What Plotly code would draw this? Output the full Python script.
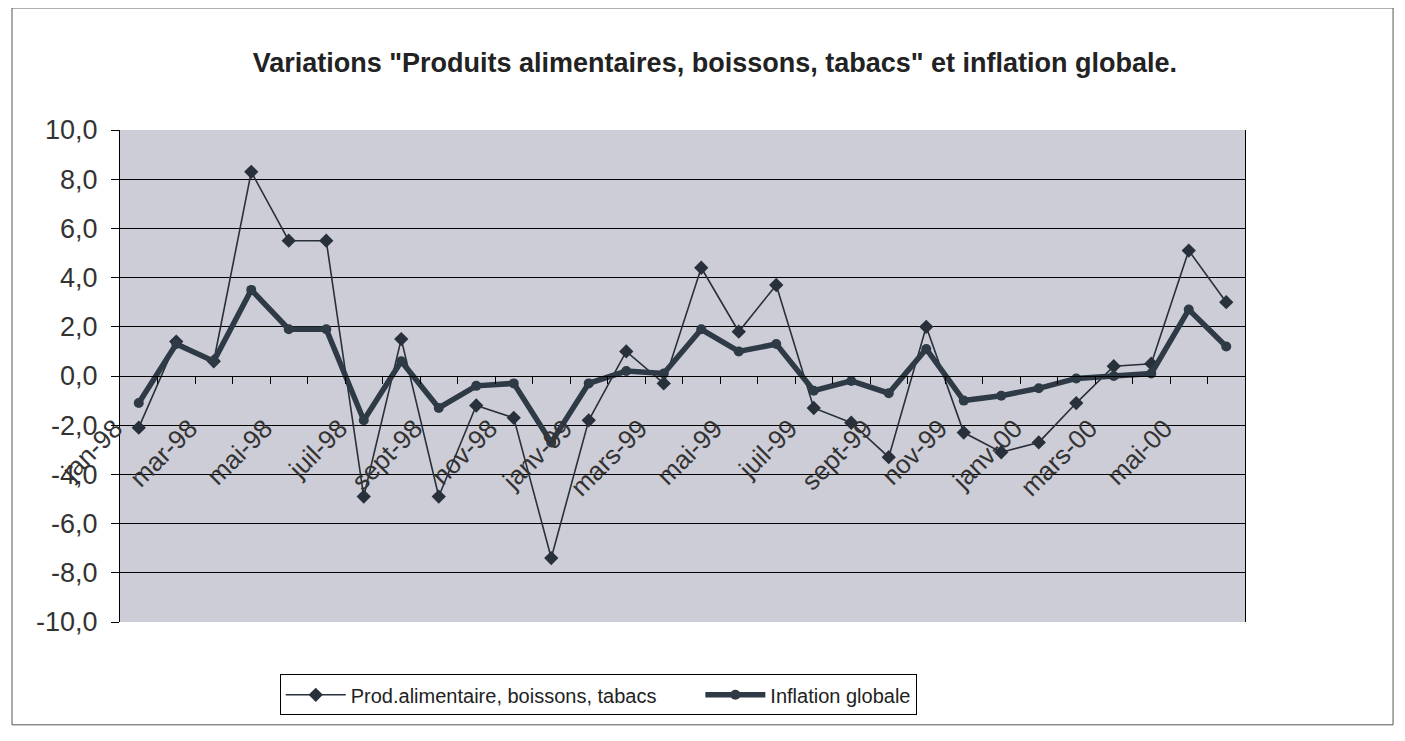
import plotly.graph_objects as go

months = ["jan-98", "févr-98", "mar-98", "avr-98", "mai-98", "juin-98", "juil-98", "août-98",
          "sept-98", "oct-98", "nov-98", "déc-98", "janv-99", "févr-99", "mars-99", "avr-99",
          "mai-99", "juin-99", "juil-99", "août-99", "sept-99", "oct-99", "nov-99", "déc-99",
          "janv-00", "févr-00", "mars-00", "avr-00", "mai-00", "juin-00"]

prod_alim = [-2.1, 1.4, 0.6, 8.3, 5.5, 5.5, -4.9, 1.5, -4.9, -1.2, -1.7, -7.4,
             -1.8, 1.0, -0.3, 4.4, 1.8, 3.7, -1.3, -1.9, -3.3, 2.0, -2.3, -3.1,
             -2.7, -1.1, 0.4, 0.5, 5.1, 3.0]

inflation = [-1.1, 1.3, 0.6, 3.5, 1.9, 1.9, -1.8, 0.6, -1.3, -0.4, -0.3, -2.7,
             -0.3, 0.2, 0.1, 1.9, 1.0, 1.3, -0.6, -0.2, -0.7, 1.1, -1.0, -0.8,
             -0.5, -0.1, 0.0, 0.1, 2.7, 1.2]

tick_months = months[::2]
y_ticks = list(range(-10, 11, 2))
y_ticktext = [f"{v:.1f}".replace(".", ",") for v in y_ticks]
boundaries = [i + 0.5 for i in range(len(months) - 1)]

FONT = "Liberation Sans, Arial, sans-serif"
LINE = "#27303b"

fig = go.Figure()
fig.add_trace(go.Scatter(
    x=months, y=prod_alim,
    name="Prod.alimentaire, boissons, tabacs\u00a0\u00a0\u00a0\u00a0\u00a0\u00a0\u00a0",
    mode="lines+markers",
    line=dict(color=LINE, width=1.6),
    marker=dict(symbol="diamond", size=11, color=LINE),
))
fig.add_trace(go.Scatter(
    x=months, y=inflation, name="Inflation globale",
    mode="lines+markers",
    line=dict(color="#2e3a45", width=5.5),
    marker=dict(symbol="circle", size=10, color="#2e3a45"),
))
# invisible helper so the boundary-tick axis is drawn
fig.add_trace(go.Scatter(
    x=[boundaries[0]], y=[0], xaxis="x2", mode="markers",
    marker=dict(opacity=0), showlegend=False, hoverinfo="skip",
))

fig.update_layout(
    width=1397, height=733,
    paper_bgcolor="white",
    plot_bgcolor="#cdcdd7",
    font=dict(family=FONT, color="#222222"),
    margin=dict(l=112, r=160, t=122, b=119),
    title=dict(
        text='<b>Variations "Produits alimentaires, boissons, tabacs" et inflation globale.</b>',
        x=0.506, xanchor="center", y=0.925, yanchor="middle",
        font=dict(size=27, family=FONT, color="#222222"),
    ),
    xaxis=dict(
        type="category",
        anchor="free", position=0.5,
        tickmode="array", tickvals=tick_months, ticktext=tick_months,
        tickangle=-45,
        tickfont=dict(size=26, family=FONT, color="#333333"),
        ticklabelstandoff=26,
        ticklabelshift=-24,
        showgrid=False, showline=True, linecolor="black", linewidth=1,
        ticks="",
        range=[-0.5, 29.5],
    ),
    xaxis2=dict(
        overlaying="x", anchor="free", position=0.5,
        range=[-0.5, 29.5],
        tickmode="array", tickvals=boundaries,
        showticklabels=False, showgrid=False, zeroline=False, showline=False,
        ticks="outside", ticklen=7, tickcolor="black",
    ),
    yaxis=dict(
        range=[-10, 10],
        tickmode="array", tickvals=y_ticks, ticktext=y_ticktext,
        tickfont=dict(size=27, family=FONT, color="#333333"),
        ticklabelstandoff=8,
        showgrid=True, gridcolor="black", gridwidth=1,
        zeroline=False,
        showline=True, linecolor="black", linewidth=1, mirror=True,
        ticks="outside", ticklen=8, tickcolor="black",
    ),
    legend=dict(
        orientation="h",
        x=0.142, xanchor="left", y=-0.148, yanchor="middle",
        bgcolor="white", bordercolor="black", borderwidth=1,
        font=dict(size=20, family=FONT, color="#222222"),
        itemwidth=60,
    ),
    showlegend=True,
)

fig.add_shape(type="rect", xref="paper", yref="paper",
              x0=-0.096, x1=1.1316, y0=-0.209, y1=1.248,
              line=dict(color="#555555", width=1), fillcolor="rgba(0,0,0,0)", layer="below")

fig.write_html("out.html")
